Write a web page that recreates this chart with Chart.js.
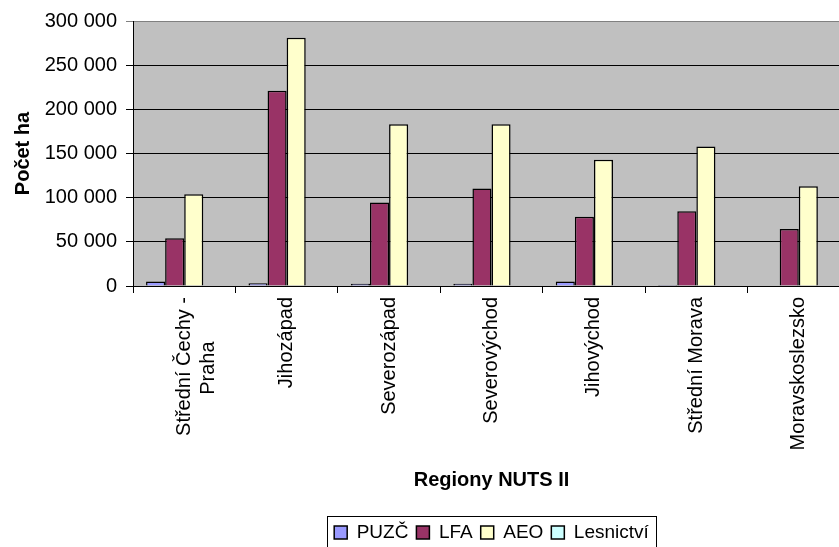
<!DOCTYPE html>
<html>
<head>
<meta charset="utf-8">
<script src="https://cdn.jsdelivr.net/npm/chart.js@4"></script>
<style>
  html, body { margin: 0; padding: 0; background: #fff; overflow: hidden; }
</style>
</head>
<body>
<canvas id="chart" width="860" height="547"></canvas>
<script>
// Regions (NUTS II) and hectares per programme
const regions = [
  ["Střední Čechy -", "Praha        "],
  "Jihozápad", "Severozápad", "Severovýchod", "Jihovýchod", "Střední Morava", "Moravskoslezsko"
];
const puzcValues = [5000, 3000, 2500, 2500, 5000, 1000, 0];
const lfaValues = [54000, 221000, 94500, 110500, 78500, 84500, 64500];
const aeoValues = [104000, 281000, 183000, 183000, 143000, 158000, 113000];
const lesnictviValues = [0, 0, 0, 0, 0, 0, 0];
const yTicks = [0, 50000, 100000, 150000, 200000, 250000, 300000];

Chart.defaults.font.family = "'Liberation Sans', Arial, sans-serif";
Chart.defaults.font.size = 20;
Chart.defaults.color = "#000";

function formatNumber(v) {
  return String(v).replace(/\B(?=(\d{3})+(?!\d))/g, " ");
}

// grey plot area like the spreadsheet original
const plotBackground = {
  id: "plotBackground",
  beforeDraw(chart) {
    const a = chart.chartArea;
    const ctx = chart.ctx;
    ctx.save();
    ctx.fillStyle = "#C0C0C0";
    ctx.fillRect(a.left, a.top, a.right - a.left, a.bottom - a.top);
    ctx.restore();
  }
};

// thin frame around the legend items
const legendFrame = {
  id: "legendFrame",
  afterDraw(chart) {
    const boxes = chart.legend.legendHitBoxes;
    if (!boxes || !boxes.length) return;
    let left = Infinity, right = -Infinity, top = Infinity, bottom = -Infinity;
    boxes.forEach(b => {
      left = Math.min(left, b.left);
      right = Math.max(right, b.left + b.width);
      top = Math.min(top, b.top);
      bottom = Math.max(bottom, b.top + b.height);
    });
    const ctx = chart.ctx;
    ctx.save();
    ctx.strokeStyle = "#000";
    ctx.lineWidth = 1;
    ctx.strokeRect(Math.round(left - 7) + 0.5, Math.round(top - 7) + 0.5,
      Math.round(right - left + 14), Math.round(bottom - top + 16));
    ctx.restore();
  }
};

const ctx = document.getElementById("chart").getContext("2d");

new Chart(ctx, {
  type: "bar",
  data: {
    labels: regions,
    datasets: [
      { label: "PUZČ", data: puzcValues, backgroundColor: "#9999FF" },
      { label: "LFA", data: lfaValues, backgroundColor: "#993366" },
      { label: "AEO", data: aeoValues, backgroundColor: "#FFFFCC" },
      { label: "Lesnictví", data: lesnictviValues, backgroundColor: "#CCFFFF" }
    ].map(ds => Object.assign(ds, {
      borderColor: "#000",
      borderWidth: 1.5,
      categoryPercentage: 0.745,
      barPercentage: 1
    }))
  },
  options: {
    responsive: false,
    animation: false,
    layout: { padding: { top: 21, right: 10, left: 0, bottom: -5 } },
    plugins: {
      tooltip: { enabled: false },
      legend: {
        position: "bottom",
        fullSize: false,
        labels: {
          boxWidth: 13,
          boxHeight: 13,
          padding: 8,
          color: "#000",
          font: { size: 19 }
        }
      }
    },
    scales: {
      x: {
        offset: true,
        grid: {
          offset: true,
          drawOnChartArea: false,
          color: "#000",
          tickLength: 7
        },
        border: { color: "#000" },
        ticks: {
          minRotation: 90,
          maxRotation: 90,
          padding: 4,
          autoSkip: false,
          font: { size: 20 }
        },
        title: {
          display: true,
          text: "Regiony NUTS II",
          font: { size: 20, weight: "bold" },
          padding: { top: 4, bottom: 23 }
        },
        afterFit(scale) {
          scale.height = 229;
        }
      },
      y: {
        min: 0,
        max: 300000,
        afterBuildTicks(scale) {
          scale.ticks = yTicks.map(v => ({ value: v }));
        },
        grid: {
          color: c => (c.tick && c.tick.value === 300000 ? "#808080" : "#000"),
          tickLength: 7
        },
        border: { color: "#000" },
        ticks: {
          padding: 9,
          font: { size: 20 },
          callback: v => formatNumber(v)
        },
        title: {
          display: true,
          text: "Počet ha",
          font: { size: 20, weight: "bold" },
          padding: { top: 11, bottom: 4 }
        },
        afterFit(scale) {
          scale.width = 133;
        }
      }
    }
  },
  plugins: [plotBackground, legendFrame]
});
</script>
</body>
</html>
